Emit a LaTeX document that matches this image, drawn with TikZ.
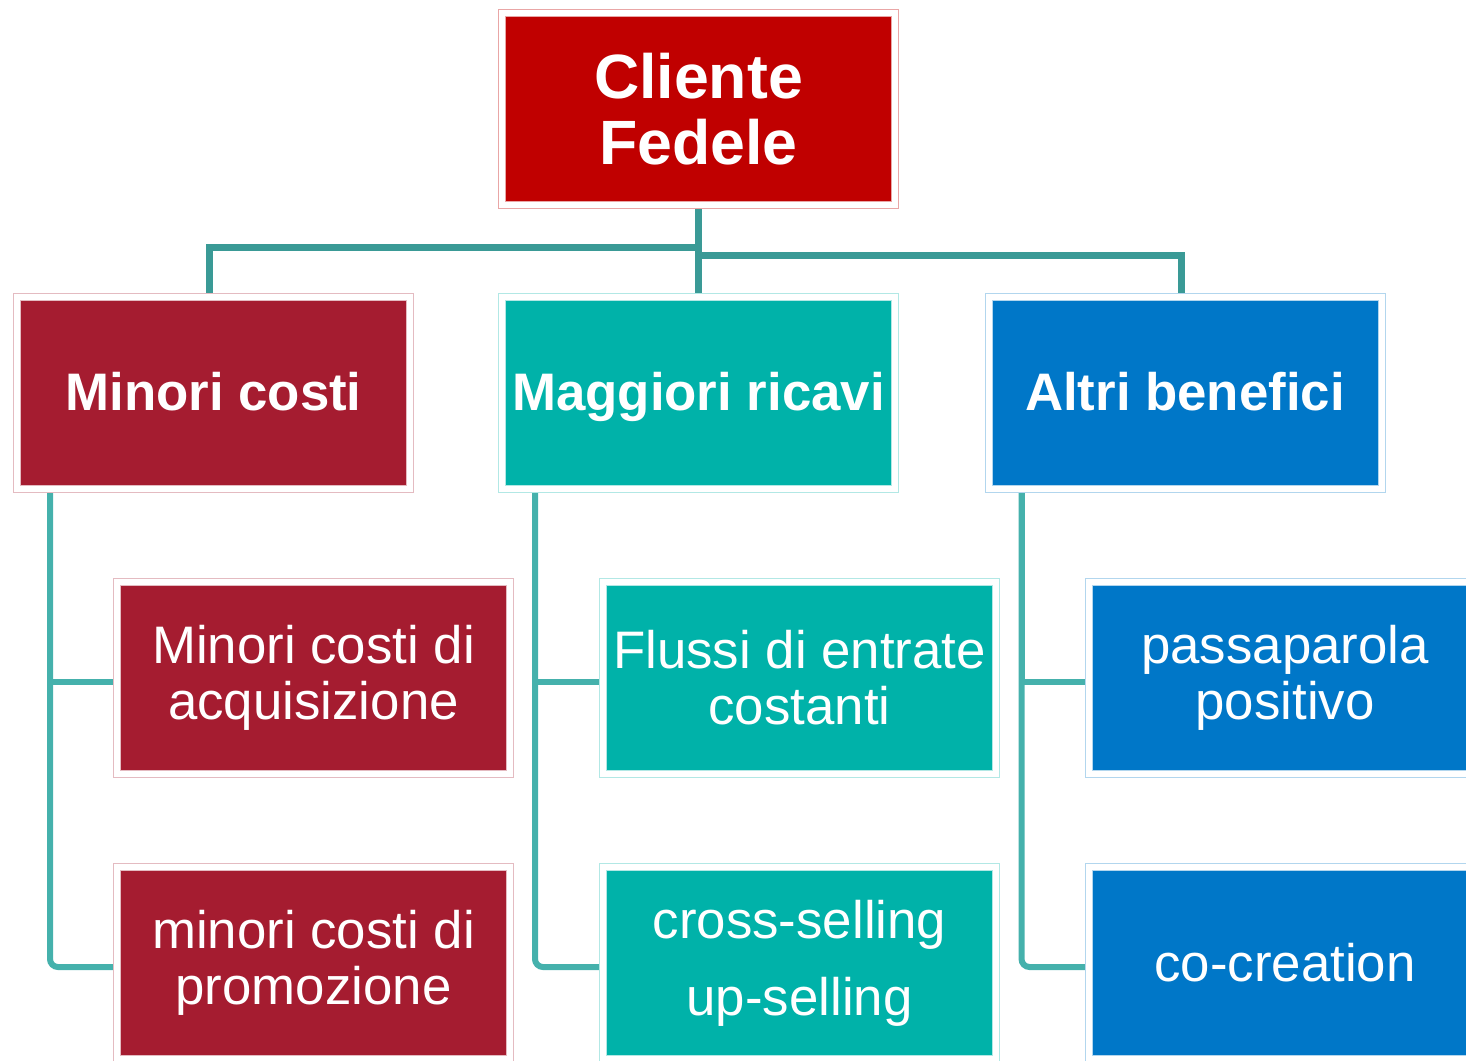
\documentclass[tikz,border=0pt]{standalone}
\usepackage{fontspec}
\setmainfont{Liberation Sans}
\usepackage{xcolor}
\usepackage{tikz}
\usetikzlibrary{positioning, backgrounds}

\definecolor{clientered}{HTML}{C00000}
\definecolor{costired}{HTML}{A51C30}
\definecolor{ricaviteal}{HTML}{00B2A9}
\definecolor{altriblue}{HTML}{0077C8}
\definecolor{trunkteal}{HTML}{3A9A96}
\definecolor{branchteal}{HTML}{45B1AC}

\tikzset{
  treebox/.style={
    rectangle, inner sep=0pt, outer sep=0pt, align=center, text=white,
    minimum width=196.5pt, minimum height=96pt,
    line width=0.5pt, double=white, double distance=3pt
  },
  headbox/.style={
    treebox, font=\fontsize{31.3}{33}\selectfont\bfseries
  },
  catbox/.style={
    treebox, font=\fontsize{26.4}{30}\selectfont\bfseries,
    text height=20pt, text depth=3pt
  },
  itembox/.style={
    treebox, font=\fontsize{26.4}{28}\selectfont
  },
  trunkline/.style={line width=3.5pt, color=trunkteal},
  branchline/.style={line width=3pt, color=branchteal},
}

\begin{document}
\begin{tikzpicture}[x=0.5pt, y=-0.5pt]
  \useasboundingbox (0,0) rectangle (1466,1060);
  \clip (0,0) rectangle (1466,1060);

  % === ROOT ===
  \node[headbox, fill=clientered, draw=clientered!35] (cliente) at (698.5,109)
    {Cliente\\Fedele};

  % === CATEGORIES ===
  \node[catbox, fill=costired, draw=costired!30] (minori) at (213.5,393) {Minori costi};
  \node[catbox, fill=ricaviteal, draw=ricaviteal!30] (maggiori) at (698.5,393) {Maggiori ricavi};
  \node[catbox, fill=altriblue, draw=altriblue!30] (altri) at (1185,393) {Altri benefici};

  % Minori costi - items
  \node[itembox, fill=costired, draw=costired!30] (acq) at (313.5,678)
    {Minori costi di\\acquisizione};
  \node[itembox, fill=costired, draw=costired!30] (promo) at (313.5,963)
    {minori costi di\\promozione};

  % Maggiori ricavi - items
  \node[itembox, fill=ricaviteal, draw=ricaviteal!30] (flussi) at (799.5,678)
    {Flussi di entrate\\costanti};
  \node[itembox, fill=ricaviteal, draw=ricaviteal!30] (cross) at (799.5,963)
    {cross-selling\\[10.5pt]up-selling};

  % Altri benefici - items
  \node[itembox, fill=altriblue, draw=altriblue!30] (passa) at (1285,678)
    {passaparola\\positivo};
  \node[itembox, fill=altriblue, draw=altriblue!30] (cocre) at (1285,963)
    {co-creation};

  % === Connectors ===
  \begin{scope}[on background layer]
    \draw[trunkline] (cliente.south) -- (maggiori.north);
    \draw[trunkline] ([xshift=-2pt]minori.north) -- ++(0,-50) -| (cliente.south);
    \draw[trunkline] ([xshift=-2pt]altri.north) -- ++(0,-42) -| (cliente.south);

    \draw[branchline] ([xshift=16.5pt]minori.south west) |- ([yshift=-2pt]acq.west);
    \draw[branchline, rounded corners=4pt] ([xshift=16.5pt]minori.south west) |- ([yshift=-2pt]promo.west);

    \draw[branchline] ([xshift=16.5pt]maggiori.south west) |- ([yshift=-2pt]flussi.west);
    \draw[branchline, rounded corners=4pt] ([xshift=16.5pt]maggiori.south west) |- ([yshift=-2pt]cross.west);

    \draw[branchline] ([xshift=16.5pt]altri.south west) |- ([yshift=-2pt]passa.west);
    \draw[branchline, rounded corners=4pt] ([xshift=16.5pt]altri.south west) |- ([yshift=-2pt]cocre.west);
  \end{scope}

\end{tikzpicture}
\end{document}
